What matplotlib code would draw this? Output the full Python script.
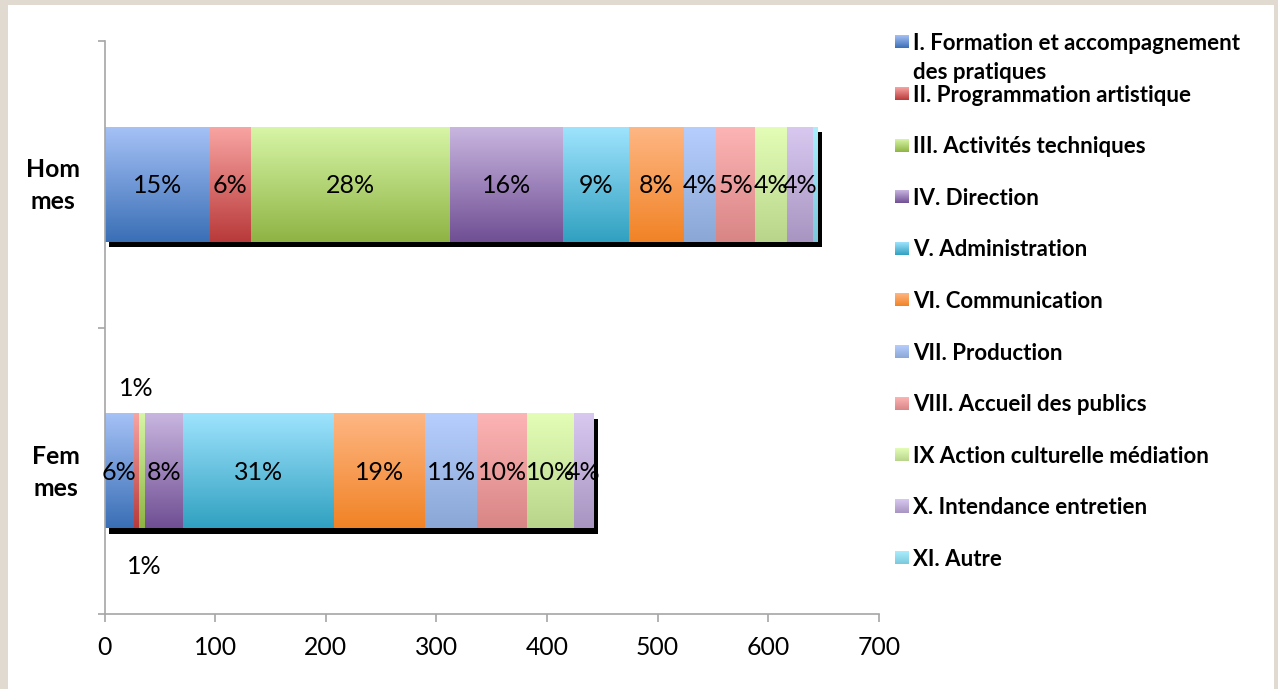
import numpy as np
import matplotlib
matplotlib.use("Agg")
import matplotlib.pyplot as plt
import matplotlib.transforms as mtransforms
from matplotlib.colors import to_rgb
from matplotlib.patches import Rectangle

# ---------------- data ----------------
categories = ["Femmes", "Hommes"]
category_labels = ["Fem\nmes", "Hom\nmes"]
series = [
    "I. Formation et accompagnement\ndes pratiques",
    "II. Programmation artistique",
    "III. Activités techniques",
    "IV. Direction",
    "V. Administration",
    "VI. Communication",
    "VII. Production",
    "VIII. Accueil des publics",
    "IX Action culturelle médiation",
    "X. Intendance entretien",
    "XI. Autre",
]
femmes = [26, 5, 5, 35, 136, 83, 47, 45, 42, 18, 0]
hommes = [95, 37, 180, 102, 60, 50, 29, 35, 29, 24, 4]
xticks = [0, 100, 200, 300, 400, 500, 600, 700]

# gradient colours (top, bottom) per series
colors_top = ["#a5c1f6", "#f8a4a2", "#d7f5a6", "#c8b5df", "#9ee3fd", "#feb683",
              "#b6cefd", "#fdb4b4", "#e3fdb6", "#d8c8f0", "#a9eefd"]
colors_bot = ["#3a6fb6", "#b93a3a", "#8fb444", "#704f94", "#31a1c1", "#f18326",
              "#8aa7d6", "#d98586", "#b9d58b", "#a895c1", "#7cc8dc"]

# labels that Excel moved off the bar (category index, series index) -> offset in points
label_offsets = {(0, 1): (0, 60.5), (0, 2): (2, -68)}
hidden_label_series = [10]

W, H = 1278, 689
fig = plt.figure(figsize=(W / 100, H / 100), dpi=100)
fig.patch.set_facecolor("#e1dad1")
fig.patches.append(Rectangle((8 / W, 0), (1274 - 8) / W, (H - 5) / H,
                             transform=fig.transFigure, facecolor="white",
                             edgecolor="none", zorder=-5))

FONT = "Lato"
ax = fig.add_axes([104.8 / W, 1 - 614 / H, (878.7 - 104.8) / W, (614 - 41) / H])
ax.set_facecolor("none")

values = np.array([femmes, hommes], dtype=float)
lefts = np.hstack([np.zeros((2, 1)), np.cumsum(values, axis=1)[:, :-1]])
totals = values.sum(axis=1)
ypos = np.arange(len(categories))
bar_h = 0.4

shadow_tr = ax.transData + mtransforms.ScaledTranslation(4.5 / 100, -5.5 / 100, fig.dpi_scale_trans)


def gradient(top, bot, n=64):
    t = np.linspace(0, 1, n)[:, None]
    a = np.array(to_rgb(top))[None, :]
    b = np.array(to_rgb(bot))[None, :]
    return (a * (1 - t) + b * t)[:, None, :]


for j in range(len(series)):
    grad = gradient(colors_top[j], colors_bot[j])
    ax.barh(ypos, values[:, j], left=lefts[:, j], height=bar_h, color="black",
            linewidth=0, transform=shadow_tr, zorder=1)
    bars = ax.barh(ypos, values[:, j], left=lefts[:, j], height=bar_h,
                   color=colors_bot[j], linewidth=0, zorder=2)
    for i, bar in enumerate(bars):
        if values[i, j] <= 0:
            continue
        bb = bar.get_bbox()
        ax.imshow(grad, extent=(bb.x0, bb.x1, bb.y0, bb.y1), aspect="auto",
                  interpolation="bilinear", zorder=2.5)
        if j in hidden_label_series:
            continue
        pct = int(round(100 * values[i, j] / totals[i]))
        dx, dy = label_offsets.get((i, j), (0, 0))
        ax.annotate(f"{pct}%", (lefts[i, j] + values[i, j] / 2, ypos[i]),
                    xytext=(dx, dy - 1), textcoords="offset points",
                    ha="center", va="center", fontsize=18, family=FONT,
                    color="black", zorder=4)

ax.set_xlim(0, 700)
ax.set_ylim(-0.5, len(categories) - 0.5)
ax.set_xticks(xticks)
ax.set_xticklabels([str(v) for v in xticks], family=FONT, fontsize=17.8)
ax.set_yticks(ypos)
ax.set_yticklabels([])
ax.set_yticks(np.arange(-0.5, len(categories), 1.0), minor=True)

# category labels (bold, wrapped like the original)
cat_tr = mtransforms.blended_transform_factory(ax.transAxes, ax.transData) + \
    mtransforms.ScaledTranslation(-25 / 100, -1.5 / 100, fig.dpi_scale_trans)
for y, lab in zip(ypos, category_labels):
    ax.text(0, y, lab, transform=cat_tr, ha="right", va="center",
            family=FONT, fontsize=17.8, fontweight="bold", linespacing=1.45,
            multialignment="center", color="black")

axis_col = "#a6a6a6"
for s in ["top", "right"]:
    ax.spines[s].set_visible(False)
for s in ["left", "bottom"]:
    ax.spines[s].set_color(axis_col)
    ax.spines[s].set_linewidth(1.2)
ax.tick_params(axis="x", which="major", length=5.8, color=axis_col, width=1.2,
               pad=10, labelcolor="black")
ax.tick_params(axis="y", which="major", length=0)
ax.tick_params(axis="y", which="minor", length=5.2, color=axis_col, width=1.2)

# ---------------- legend (manual, Excel-like even spacing) ----------------
lax = fig.add_axes([0, 0, 1, 1])
lax.set_facecolor("none")
lax.axis("off")
for k, name in enumerate(series):
    cy = 42 + 51.6 * k
    lax.imshow(gradient(colors_top[k], colors_bot[k]),
               extent=(895, 909, cy + 6.5, cy - 6.5), aspect="auto",
               interpolation="bilinear")
    lax.text(913, cy - 9, name, fontsize=16, fontweight="bold", family=FONT,
             va="top", ha="left", linespacing=1.48, color="black")
lax.set_xlim(0, W)
lax.set_ylim(H, 0)

fig.savefig("out.png", dpi=100, facecolor=fig.get_facecolor())
